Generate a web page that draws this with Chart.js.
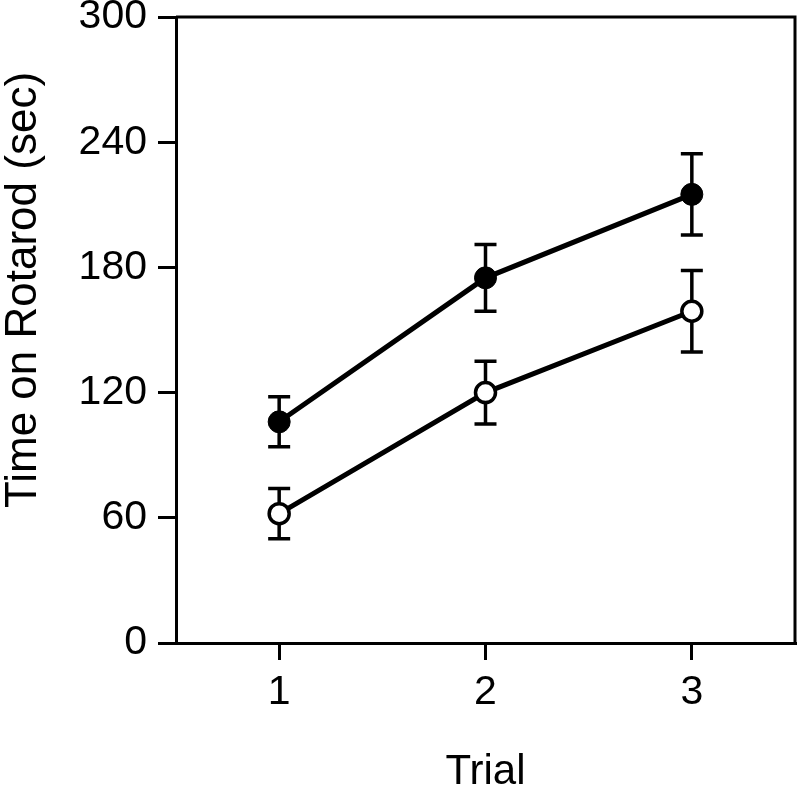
<!DOCTYPE html>
<html>
<head>
<meta charset="utf-8">
<script src="https://cdn.jsdelivr.net/npm/chart.js@4"></script>
<style>
  html, body { margin: 0; padding: 0; background: #fff; }
  #wrap { width: 800px; height: 789px; }
</style>
</head>
<body>
<div id="wrap"><canvas id="rotarodChart"></canvas></div>
<script>
// values
const trials = ["1", "2", "3"];
const filledMeans = [106, 175, 215];
const filledErr = [12, 16, 19.5];
const openMeans = [62, 120, 159];
const openErr = [12, 15, 19.5];
const yTicks = [0, 60, 120, 180, 240, 300];
const yTitle = "Time on Rotarod (sec)";

const FONT = "'Liberation Sans', Arial, Helvetica, sans-serif";

// error bars drawn under the markers
const errorBars = {
  id: "errorBars",
  beforeDatasetsDraw(chart) {
    const ctx = chart.ctx;
    const y = chart.scales.y;
    ctx.save();
    ctx.strokeStyle = "#000";
    ctx.lineWidth = 3.5;
    chart.data.datasets.forEach((ds, di) => {
      const meta = chart.getDatasetMeta(di);
      meta.data.forEach((pt, i) => {
        const hi = y.getPixelForValue(ds.data[i] + ds.errors[i]);
        const lo = y.getPixelForValue(ds.data[i] - ds.errors[i]);
        const x = pt.x;
        ctx.beginPath();
        ctx.moveTo(x, hi);
        ctx.lineTo(x, lo);
        ctx.moveTo(x - 11, hi);
        ctx.lineTo(x + 11, hi);
        ctx.moveTo(x - 11, lo);
        ctx.lineTo(x + 11, lo);
        ctx.stroke();
      });
    });
    ctx.restore();
  },
};

// top and right edges of the frame, plus the y title (sits a bit above centre in the original)
const frame = {
  id: "frame",
  afterDraw(chart) {
    const a = chart.chartArea;
    const ctx = chart.ctx;
    ctx.save();
    ctx.strokeStyle = "#000";
    ctx.lineWidth = 3;
    ctx.beginPath();
    ctx.moveTo(a.left, a.top);
    ctx.lineTo(a.right, a.top);
    ctx.lineTo(a.right, a.bottom);
    ctx.stroke();

    ctx.translate(36, 290);
    ctx.rotate(-Math.PI / 2);
    ctx.fillStyle = "#000";
    ctx.font = "44px " + FONT;
    ctx.textAlign = "center";
    ctx.textBaseline = "alphabetic";
    ctx.fillText(yTitle, 0, 0);
    ctx.restore();
  },
};

const ctx = document.getElementById("rotarodChart").getContext("2d");
new Chart(ctx, {
  type: "line",
  data: {
    labels: trials,
    datasets: [
      {
        label: "filled",
        data: filledMeans,
        errors: filledErr,
        borderColor: "#000",
        borderWidth: 5,
        pointRadius: 11,
        pointBorderWidth: 1,
        pointBackgroundColor: "#000",
        pointBorderColor: "#000",
      },
      {
        label: "open",
        data: openMeans,
        errors: openErr,
        borderColor: "#000",
        borderWidth: 5,
        pointRadius: 10,
        pointBorderWidth: 3.5,
        pointBackgroundColor: "#fff",
        pointBorderColor: "#000",
      },
    ],
  },
  options: {
    responsive: true,
    maintainAspectRatio: false,
    animation: false,
    layout: { autoPadding: false, padding: { top: 17, right: 5, left: 0, bottom: 0 } },
    plugins: { legend: { display: false }, tooltip: { enabled: false } },
    scales: {
      x: {
        offset: true,
        afterFit: (s) => { s.height = 146; s.paddingLeft = 0; s.paddingRight = 0; },
        border: { display: true, color: "#000", width: 3 },
        grid: { drawOnChartArea: false, drawTicks: true, tickLength: 17, color: "#000", lineWidth: 3, offset: false },
        ticks: { color: "#000", font: { family: FONT, size: 41 }, padding: 8 },
        title: { display: true, text: "Trial", color: "#000", font: { family: FONT, size: 42, lineHeight: 1 }, padding: { top: 36, bottom: -4 } },
      },
      y: {
        min: 0,
        max: 300,
        afterFit: (s) => { s.width = 176; s.paddingTop = 0; s.paddingBottom = 0; },
        afterBuildTicks: (s) => { s.ticks = yTicks.map((v) => ({ value: v })); },
        border: { display: true, color: "#000", width: 3 },
        grid: { drawOnChartArea: false, drawTicks: true, tickLength: 18, color: "#000", lineWidth: 3 },
        ticks: { color: "#000", font: { family: FONT, size: 41 }, padding: 11 },
      },
    },
  },
  plugins: [errorBars, frame],
});
</script>
</body>
</html>
